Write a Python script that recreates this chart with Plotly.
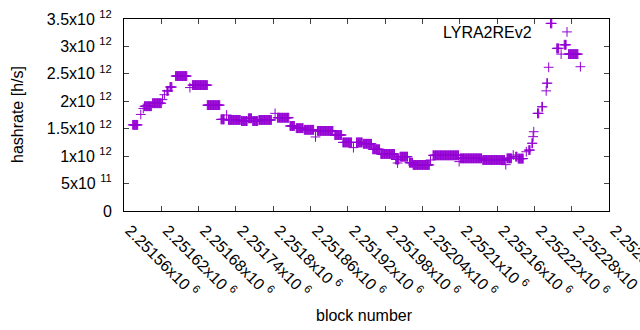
import numpy as np
import plotly.graph_objects as go

# Segments of consecutive blocks sharing the same hashrate estimate
seg_start = [2251574, 2251587, 2251591, 2251593, 2251606, 2251622, 2251625, 2251629, 2251634,
             2251643, 2251666, 2251670, 2251694, 2251716, 2251725, 2251728, 2251749, 2251760,
             2251767, 2251777, 2251803, 2251807, 2251827, 2251837, 2251850, 2251868, 2251871,
             2251899, 2251912, 2251929, 2251934, 2251945, 2251960, 2251973, 2251997, 2252000,
             2252004, 2252019, 2252025, 2252053, 2252057, 2252099, 2252101, 2252137, 2252174,
             2252176, 2252186, 2252190, 2252194, 2252207, 2252211, 2252216, 2252218, 2252219,
             2252225, 2252232, 2252239, 2252240, 2252243, 2252246, 2252256, 2252263, 2252268,
             2252275, 2252294]
seg_end = [2251582, 2251587, 2251591, 2251604, 2251620, 2251622, 2251625, 2251631, 2251637,
           2251661, 2251666, 2251694, 2251714, 2251721, 2251725, 2251747, 2251758, 2251765,
           2251775, 2251797, 2251803, 2251825, 2251834, 2251848, 2251865, 2251868, 2251896,
           2251910, 2251926, 2251929, 2251943, 2251958, 2251971, 2251995, 2252002, 2252000,
           2252016, 2252024, 2252051, 2252053, 2252098, 2252099, 2252135, 2252172, 2252174,
           2252183, 2252186, 2252192, 2252202, 2252207, 2252213, 2252217, 2252218, 2252219,
           2252227, 2252233, 2252239, 2252241, 2252243, 2252248, 2252259, 2252263, 2252271,
           2252290, 2252294]
seg_value = [1.57e12, 1.76e12, 1.87e12, 1.91e12, 1.965e12, 2.03e12, 2.12e12, 2.19e12, 2.26e12,
             2.46e12, 2.25e12, 2.295e12, 1.93e12, 1.67e12, 1.75e12, 1.66e12, 1.64e12, 1.69e12,
             1.64e12, 1.66e12, 1.78e12, 1.70e12, 1.55e12, 1.51e12, 1.48e12, 1.35e12, 1.46e12,
             1.385e12, 1.25e12, 1.155e12, 1.25e12, 1.225e12, 1.125e12, 1.04e12, 0.94e12, 0.875e12,
             0.99e12, 0.88e12, 0.84e12, 0.93e12, 1.015e12, 0.90e12, 0.96e12, 0.93e12, 0.845e12,
             0.96e12, 1.02e12, 0.99e12, 0.955e12, 1.08e12, 1.11e12, 1.235e12, 1.355e12, 1.445e12,
             1.78e12, 1.90e12, 2.19e12, 2.33e12, 2.62e12, 3.42e12, 2.965e12, 2.86e12, 3.03e12,
             2.86e12, 2.63e12]

x_tick_vals = [2251560, 2251620, 2251680, 2251740, 2251800, 2251860, 2251920, 2251980,
               2252040, 2252100, 2252160, 2252220, 2252280, 2252340]
x_tick_text = ["2.25156", "2.25162", "2.25168", "2.25174", "2.2518", "2.25186", "2.25192",
               "2.25198", "2.25204", "2.2521", "2.25216", "2.25222", "2.25228", "2.25234"]
y_tick_vals = [0, 0.5e12, 1e12, 1.5e12, 2e12, 2.5e12, 3e12, 3.5e12]
y_tick_mant = ["0", "5", "1", "1.5", "2", "2.5", "3", "3.5"]
y_tick_exp = ["", "11", "12", "12", "12", "12", "12", "12"]

series_name = "LYRA2REv2"
color = "#9400D3"

# expand segments into per-block points
blocks, values = [], []
for s, e, v in zip(seg_start, seg_end, seg_value):
    for b in range(s, e + 1):
        blocks.append(b)
        values.append(v)

y_text = [m if not ex else f"{m}x10 <sup>{ex}</sup>" for m, ex in zip(y_tick_mant, y_tick_exp)]
x_text = [f"{t}x10 <sup>6</sup>" for t in x_tick_text]

FONT = "Liberation Sans, Arial, sans-serif"
FS = 16

fig = go.Figure()
fig.add_trace(go.Scatter(
    x=blocks, y=values, mode="markers", name=" ",
    marker=dict(symbol="cross-thin", size=7, color=color,
                line=dict(color=color, width=1)),
    showlegend=True,
))

L, R, T, B = 124, 31, 19, 119
W, H = 640, 330
pw, ph = W - L - R, H - T - B

def px_to_paper_x(px):
    return (px - L) / pw

def px_to_paper_y(py):
    return (H - B - py) / ph

fig.update_layout(
    width=W, height=H,
    margin=dict(l=L, r=R, t=T, b=B, autoexpand=False),
    paper_bgcolor="white", plot_bgcolor="white",
    font=dict(family=FONT, size=FS, color="black"),
    showlegend=True,
    legend=dict(x=px_to_paper_x(547), y=px_to_paper_y(32), xanchor="left", yanchor="middle",
                bgcolor="rgba(0,0,0,0)", font=dict(size=FS)),
    xaxis=dict(range=[2251560, 2252340], tickmode="array", tickvals=x_tick_vals,
               ticktext=x_text, tickangle=45, ticks="inside", ticklen=5,
               showline=True, linecolor="black", linewidth=1, mirror="ticks",
               showgrid=False, zeroline=False, tickfont=dict(size=FS),
               ticklabeloverflow="allow", ticklabelstandoff=3, ticklabelshift=6),
    yaxis=dict(range=[0, 3.5e12], tickmode="array", tickvals=y_tick_vals,
               ticktext=y_text, ticks="inside", ticklen=5,
               showline=True, linecolor="black", linewidth=1, mirror="ticks",
               showgrid=False, zeroline=False, tickfont=dict(size=FS),
               ticklabelstandoff=8),
    annotations=[
        dict(text="block number", x=px_to_paper_x(364), y=px_to_paper_y(315),
             xref="paper", yref="paper", showarrow=False, xanchor="center", yanchor="middle",
             font=dict(size=FS)),
        dict(text="hashrate [h/s]", x=px_to_paper_x(17), y=px_to_paper_y(115),
             xref="paper", yref="paper", showarrow=False, xanchor="center", yanchor="middle",
             textangle=-90, font=dict(size=FS)),
        dict(text=series_name, x=px_to_paper_x(534), y=px_to_paper_y(32),
             xref="paper", yref="paper", showarrow=False, xanchor="right", yanchor="middle",
             font=dict(size=FS)),
    ],
)

fig.write_html("out.html")
